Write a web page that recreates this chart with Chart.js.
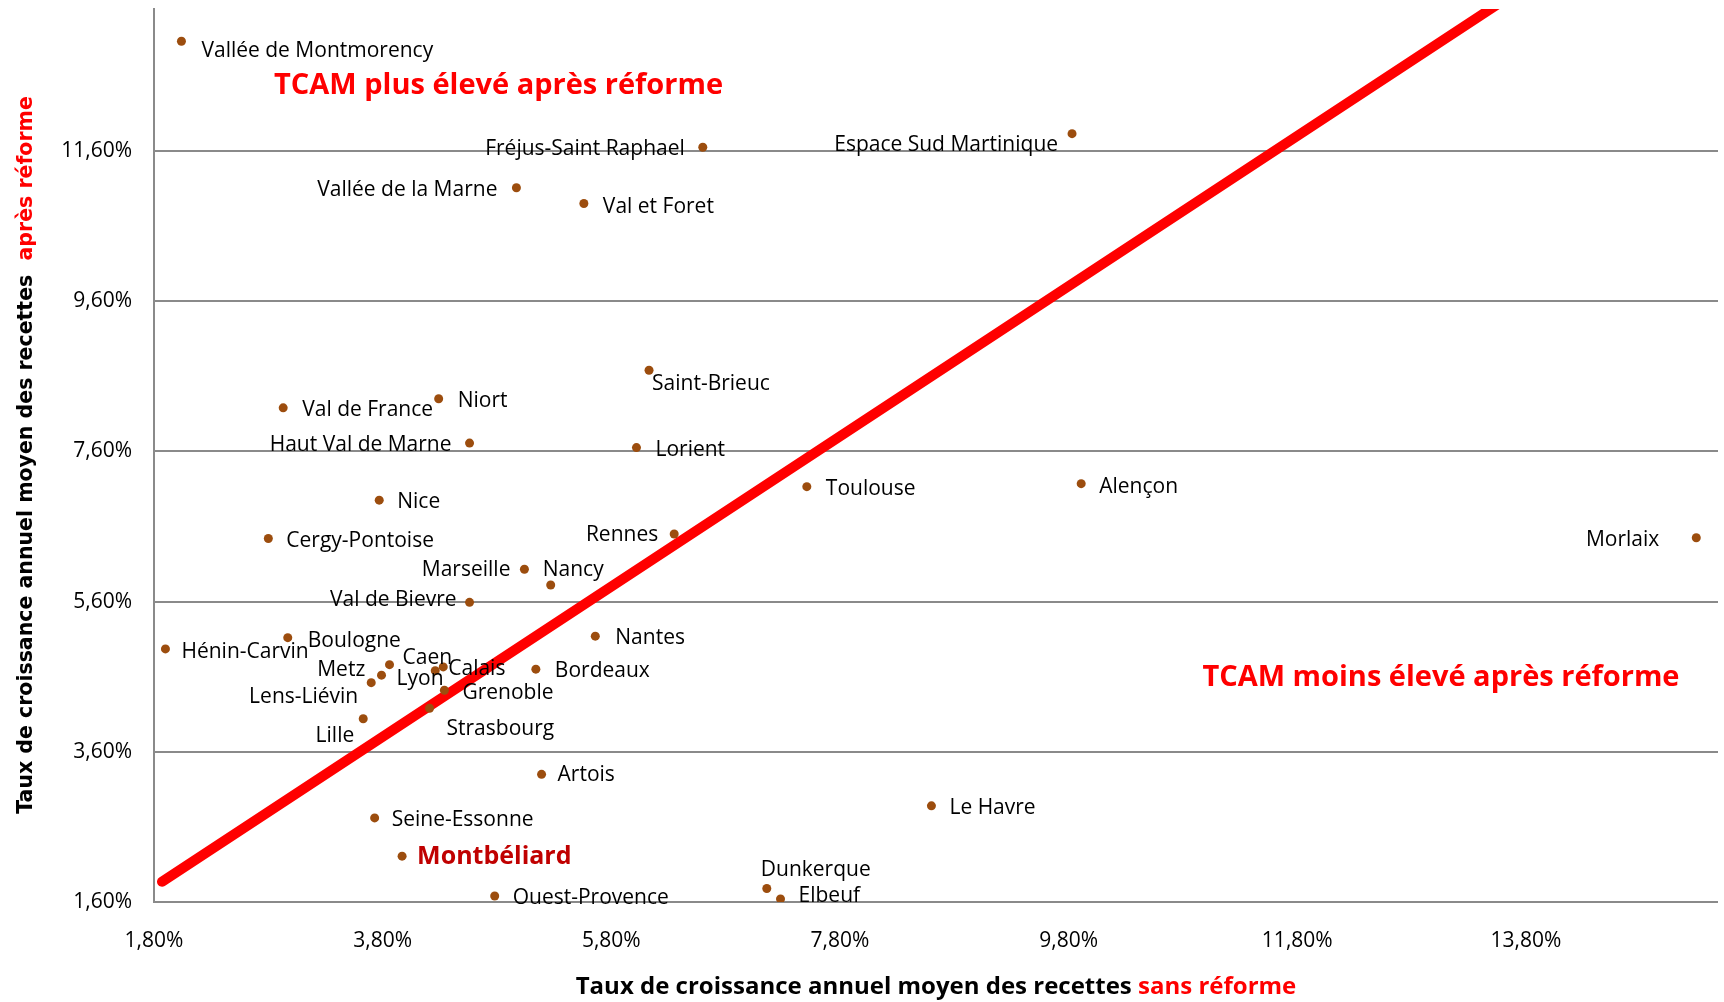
<!DOCTYPE html>
<html>
<head>
<meta charset="utf-8">
<script src="https://cdn.jsdelivr.net/npm/chart.js@4.4.1/dist/chart.umd.min.js"></script>
<style>
  html, body { margin: 0; padding: 0; background: #fff; }
  canvas { display: block; }
</style>
</head>
<body>
<canvas id="tcamChart" width="1724" height="1002"></canvas>
<script>
// TCAM des recettes : sans réforme (x) vs après réforme (y), en %
var cities = [
    'Vallée de Montmorency', 'Fréjus-Saint Raphael', 'Espace Sud Martinique', 'Vallée de la Marne',
    'Val et Foret', 'Saint-Brieuc', 'Niort', 'Val de France', 'Haut Val de Marne', 'Lorient',
    'Toulouse', 'Alençon', 'Nice', 'Cergy-Pontoise', 'Rennes', 'Morlaix', 'Marseille', 'Nancy',
    'Val de Bievre', 'Nantes', 'Boulogne', 'Hénin-Carvin', 'Caen', 'Metz', 'Lyon', 'Calais',
    'Lens-Liévin', 'Grenoble', 'Strasbourg', 'Lille', 'Bordeaux', 'Artois', 'Le Havre',
    'Seine-Essonne', 'Montbéliard', 'Ouest-Provence', 'Dunkerque', 'Elbeuf'
];
var sansReforme = [
    2.04, 6.60, 9.83, 4.97,
    5.56, 6.13, 4.29, 2.93, 4.56, 6.02,
    7.51, 9.91, 3.77, 2.80, 6.35, 15.29, 5.04, 5.27,
    4.56, 5.66, 2.97, 1.90, 3.86, 3.70, 3.79, 4.33,
    4.26, 4.34, 4.21, 3.63, 5.14, 5.19, 8.60,
    3.73, 3.97, 4.78, 7.16, 7.28
];
var apresReforme = [
    13.06, 11.65, 11.83, 11.11,
    10.90, 8.68, 8.30, 8.18, 7.71, 7.65,
    7.13, 7.17, 6.95, 6.44, 6.50, 6.45, 6.03, 5.82,
    5.59, 5.14, 5.12, 4.97, 4.76, 4.52, 4.62, 4.73,
    4.68, 4.42, 4.18, 4.04, 4.70, 3.30, 2.88,
    2.72, 2.21, 1.68, 1.78, 1.64
];
var xTicks = [1.8, 3.8, 5.8, 7.8, 9.8, 11.8, 13.8];
var yTicks = [1.6, 3.6, 5.6, 7.6, 9.6, 11.6];
var diagonal = [1.87, 15.3];   // droite y = x
var highlight = 'Montbéliard';

// placement des étiquettes (dx, dy en px, alignement)
var labelPlace = [
    [20, 10, 'l'], [-18, 2, 'r'], [-14, 11, 'r'], [-19, 2, 'r'],
    [19, 3, 'l'], [3, 14, 'l'], [19, 2, 'l'], [19, 2, 'l'], [-18, 2, 'r'], [19, 2, 'l'],
    [19, 2, 'l'], [18, 3, 'l'], [18, 2, 'l'], [18, 3, 'l'], [-16, 1, 'r'], [-37, 2, 'r'], [-14, 1, 'r'], [-8, -15, 'l'],
    [-13, -2, 'r'], [20, 2, 'l'], [20, 3, 'l'], [16, 3, 'l'], [13, -7, 'l'], [-6, -13, 'r'], [15, 4, 'l'], [5, 2, 'l'],
    [-77, 26, 'r'], [18, 3, 'l'], [17, 21, 'l'], [-9, 17, 'r'], [19, 2, 'l'], [16, 1, 'l'], [18, 2, 'l'],
    [17, 2, 'l'], [15, 1, 'l'], [18, 2, 'l'], [-6, -18, 'l'], [18, -3, 'l']
];

var zoneNotes = [
    { text: 'TCAM plus élevé après réforme', x: 2.85, y: 12.47 },
    { text: 'TCAM moins élevé après réforme', x: 10.97, y: 4.58 }
];

function pct(v) {
    return v.toFixed(2).replace('.', ',') + '%';
}

var points = cities.map(function(c, i) {
    return { x: sansReforme[i], y: apresReforme[i] };
});

const pointLabels = {
    id: 'pointLabels',
    afterDatasetsDraw(chart) {
        const ctx = chart.ctx;
        const meta = chart.getDatasetMeta(1);
        ctx.save();
        ctx.textBaseline = 'middle';
        meta.data.forEach(function(el, i) {
            var p = labelPlace[i];
            if (cities[i] === highlight) {
                ctx.font = 'bold 25px "Open Sans"';
                ctx.fillStyle = '#C00000';
            } else {
                ctx.font = '21px "Open Sans"';
                ctx.fillStyle = '#000000';
            }
            ctx.textAlign = p[2] === 'r' ? 'right' : 'left';
            ctx.fillText(cities[i], el.x + p[0], el.y + p[1]);
        });
        // annotations des deux zones
        const xs = chart.scales.x, ys = chart.scales.y;
        ctx.font = 'bold 29px "Open Sans"';
        ctx.fillStyle = '#FF0000';
        ctx.textAlign = 'left';
        zoneNotes.forEach(function(n) {
            ctx.fillText(n.text, xs.getPixelForValue(n.x), ys.getPixelForValue(n.y));
        });
        ctx.restore();
    }
};

// titres d'axes en deux couleurs
function twoTone(ctx, parts, cx, cy) {
    var total = 0;
    parts.forEach(function(p) { total += ctx.measureText(p[0]).width; });
    var x = cx - total / 2;
    parts.forEach(function(p) {
        ctx.fillStyle = p[1];
        ctx.fillText(p[0], x, cy);
        x += ctx.measureText(p[0]).width;
    });
}

const axisTitles = {
    id: 'axisTitles',
    afterDraw(chart) {
        const ctx = chart.ctx;
        const area = chart.chartArea;
        ctx.save();
        ctx.textAlign = 'left';
        ctx.textBaseline = 'middle';
        ctx.font = 'bold 24px "Open Sans"';
        twoTone(ctx, [['Taux de croissance annuel moyen des recettes ', '#000000'], ['sans réforme', '#FF0000']],
            (area.left + area.right) / 2, 987);
        ctx.translate(27, 455);
        ctx.rotate(-Math.PI / 2);
        ctx.font = 'bold 20.5px "DejaVu Sans"';
        twoTone(ctx, [['Taux de croissance annuel moyen des recettes  ', '#000000'], ['après réforme', '#FF0000']], 0, 0);
        ctx.restore();
    }
};

var ctx = document.getElementById('tcamChart').getContext('2d');
var chart = new Chart(ctx, {
    type: 'scatter',
    data: {
        datasets: [{
            type: 'line',
            data: diagonal.map(function(v) { return { x: v, y: v }; }),
            borderColor: '#FF0000',
            borderWidth: 10,
            borderCapStyle: 'round',
            pointRadius: 0,
            fill: false,
            clip: 0,
            order: 2
        }, {
            data: points,
            backgroundColor: '#9C4D0E',
            borderWidth: 0,
            pointRadius: 4.5,
            order: 1
        }]
    },
    options: {
        responsive: false,
        animation: false,
        layout: { padding: { left: 0, right: 6, top: 9, bottom: 0 } },
        plugins: {
            legend: { display: false },
            tooltip: { enabled: false }
        },
        scales: {
            x: {
                type: 'linear',
                min: 1.8,
                max: 15.48,
                afterBuildTicks: function(scale) {
                    scale.ticks = xTicks.map(function(v) { return { value: v }; });
                },
                afterFit: function(scale) {
                    scale.height = 100;
                    scale.paddingLeft = 0;
                    scale.paddingRight = 0;
                },
                grid: { display: false, drawTicks: false },
                border: { display: false },
                ticks: {
                    padding: 26,
                    color: '#000000',
                    font: { family: 'Open Sans', size: 21 },
                    maxRotation: 0,
                    callback: function(v) { return pct(v); }
                }
            },
            y: {
                type: 'linear',
                min: 1.6,
                max: 13.49,
                afterBuildTicks: function(scale) {
                    scale.ticks = yTicks.map(function(v) { return { value: v }; });
                },
                afterFit: function(scale) {
                    scale.width = 154;
                    scale.paddingTop = 0;
                    scale.paddingBottom = 0;
                },
                grid: { color: '#8A8A8A', lineWidth: 2, drawTicks: false },
                border: { display: true, color: '#8A8A8A', width: 2 },
                ticks: {
                    padding: 22,
                    color: '#000000',
                    font: { family: 'Open Sans', size: 21 },
                    callback: function(v) { return pct(v); }
                }
            }
        }
    },
    plugins: [pointLabels, axisTitles]
});
</script>
</body>
</html>
